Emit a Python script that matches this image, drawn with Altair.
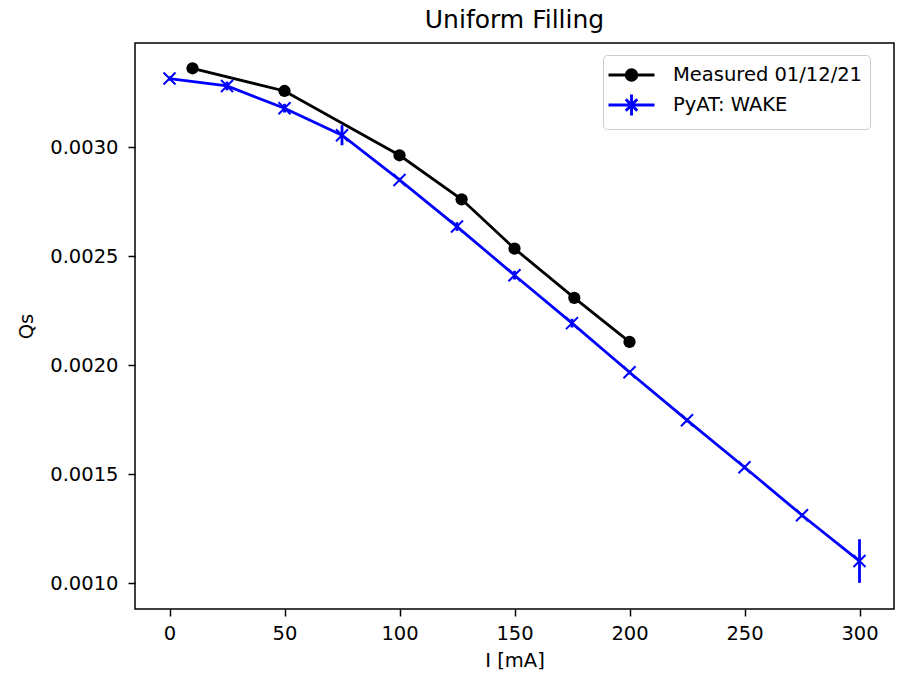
import altair as alt
import pandas as pd

# ---- data ----
meas_I = [10, 50, 100, 127, 150, 176, 200]
meas_Qs = [0.003362, 0.003258, 0.002963, 0.002761, 0.002535, 0.002309, 0.002107]

pyat_I = [0, 25, 50, 75, 100, 125, 150, 175, 200, 225, 250, 275, 300]
pyat_Qs = [0.003315, 0.003281, 0.003179, 0.003055, 0.002850, 0.002636, 0.002413,
           0.002193, 0.001968, 0.001748, 0.001532, 0.001312, 0.001102]
pyat_err = [0.00001, 0.00002, 0.00002, 0.000046, 0.00001, 0.00002, 0.00002,
            0.00002, 0.00001, 0.00001, 0.00001, 0.00001, 0.0001]

series_names = ["Measured 01/12/21", "PyAT: WAKE"]
series_colors = ["#000000", "#0000ff"]

x_ticks = [0, 50, 100, 150, 200, 250, 300]
y_ticks = [0.0010, 0.0015, 0.0020, 0.0025, 0.0030]

FONT = "DejaVu Sans"

meas = pd.DataFrame({"I": meas_I, "Qs": meas_Qs, "series": series_names[0]})
pyat = pd.DataFrame({"I": pyat_I, "Qs": pyat_Qs, "series": series_names[1]})
pyat["lo"] = [q - e for q, e in zip(pyat_Qs, pyat_err)]
pyat["hi"] = [q + e for q, e in zip(pyat_Qs, pyat_err)]
both = pd.concat([meas, pyat[["I", "Qs", "series"]]], ignore_index=True)

xs = alt.Scale(domain=[-15, 315], nice=False, zero=False)
ys = alt.Scale(domain=[0.000882, 0.003478], nice=False, zero=False)
X = alt.X("I:Q", scale=xs, title="I [mA]",
          axis=alt.Axis(values=x_ticks, format="d", titlePadding=9, labelPadding=8))
Y = alt.Y("Qs:Q", scale=ys, title="Qs",
          axis=alt.Axis(values=y_ticks, format=".4f", titlePadding=13, labelPadding=10))

X_MARK = "M-1,-1L1,1M-1,1L1,-1"

meas_line = alt.Chart(meas).mark_line(color="#000000", strokeWidth=2.8).encode(x=X, y=Y)
meas_pts = alt.Chart(meas).mark_point(filled=True, shape="circle", size=150,
                                      color="#000000", opacity=1).encode(x=X, y=Y)
pyat_line = alt.Chart(pyat).mark_line(color="#0000ff", strokeWidth=2.8).encode(x=X, y=Y)
pyat_errb = alt.Chart(pyat).mark_rule(color="#0000ff", strokeWidth=2.8).encode(
    x=X, y=alt.Y("lo:Q", scale=ys), y2="hi:Q")
pyat_pts = alt.Chart(pyat).mark_point(shape=X_MARK, size=144, filled=False,
                                      color="#0000ff", strokeWidth=2,
                                      opacity=1).encode(x=X, y=Y)

# legend symbols: line + marker (+ error bar)
LEG_MEAS = ("M-1.26,0H2.74"
            "M0.28,0A0.46,0.46 0 1,0 1.2,0A0.46,0.46 0 1,0 0.28,0Z")
LEG_PYAT = ("M-1.26,0H2.74"
            "M0.24,-0.5L1.24,0.5M0.24,0.5L1.24,-0.5"
            "M0.74,-0.91V0.91")

legend_layer = alt.Chart(both).mark_point(filled=False, fill="#000000", opacity=0,
                                          strokeWidth=2.9).encode(
    x=X, y=Y,
    color=alt.Color("series:N",
                    scale=alt.Scale(domain=series_names, range=series_colors),
                    legend=alt.Legend(title=None, orient="none", legendX=468, legendY=12,
                                      padding=7, rowPadding=1, labelOffset=37,
                                      symbolSize=529, symbolStrokeWidth=2.9,
                                      symbolOpacity=1, labelLimit=400,
                                      labelFontSize=19.5, labelFont=FONT,
                                      labelColor="#000000",
                                      fillColor="#ffffff", strokeColor="#cccccc",
                                      cornerRadius=4)),
    shape=alt.Shape("series:N",
                    scale=alt.Scale(domain=series_names, range=[LEG_MEAS, LEG_PYAT]),
                    legend=alt.Legend(title=None, orient="none", legendX=468, legendY=12)),
)

chart = alt.layer(meas_line, meas_pts, pyat_line, pyat_errb, pyat_pts, legend_layer).properties(
    width=759, height=566,
    title=alt.TitleParams("Uniform Filling", font=FONT, fontSize=25, fontWeight="normal",
                          color="#000000", anchor="middle", offset=10),
    autosize=alt.AutoSizeParams(type="none"),
    padding={"left": 135, "top": 43, "right": 5, "bottom": 67},
).configure(
    background="#ffffff"
).configure_view(
    stroke="#000000", strokeWidth=1.5
).configure_axis(
    grid=False, domain=False, ticks=True, tickColor="#000000", tickWidth=1.5,
    tickSize=7, labelFont=FONT, labelFontSize=19.5, labelColor="#000000",
    titleFont=FONT, titleFontSize=19.5, titleFontWeight="normal",
    titleColor="#000000"
)

chart.save("out.html", embed_options={"renderer": "svg", "actions": False})
